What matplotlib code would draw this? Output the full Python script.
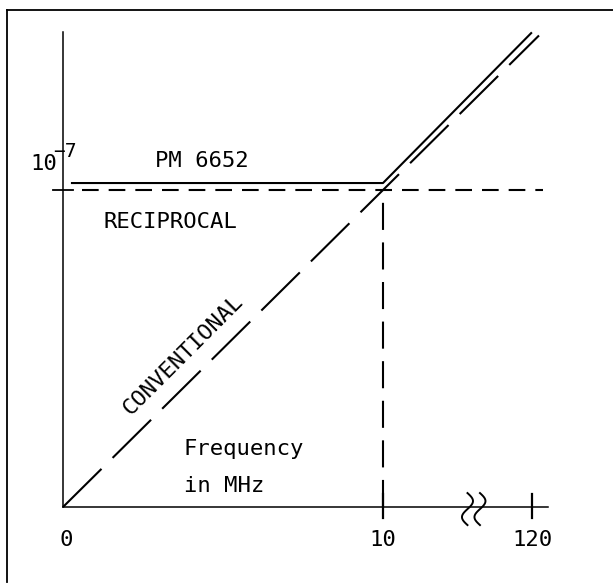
import numpy as np
import matplotlib.pyplot as plt
from matplotlib.lines import Line2D

plt.rcParams['font.family'] = 'DejaVu Sans Mono'

# frequency axis (10 MHz at 10, 120 MHz drawn after the break)
freq_ticks = [0, 10, 14.66]
freq_labels = ['0', '10', '120']
break_pos = 12.64

# relative resolution, reciprocal level = 1 (10^-7)
recip_level = 1.0
conv_x = [0, 14.875]
conv_y = [0, 1.4875]
pm_x = [0.28, 10, 14.63]
pm_y = [1.022, 1.022, 1.495]
recip_x = [0.6, 15.0]
y_top = 1.498
x_end = 15.16

fig = plt.figure(figsize=(6.13, 5.84), dpi=100)
ax = fig.add_axes([0, 0, 1, 1])
ax.set_xlim(-1.969, 17.1875)
ax.set_ylim(-0.2429, 1.5994)
ax.axis('off')

# frame (top and left only)
fig.add_artist(Line2D([0.0114, 1.0], [0.9837, 0.9837], transform=fig.transFigure, color='black', lw=1.3))
fig.add_artist(Line2D([0.0114, 0.0114], [0.0034, 0.9837], transform=fig.transFigure, color='black', lw=1.3))

# axes
ax.plot([0, 0], [0, y_top], color='black', lw=1.1)
ax.plot([0, x_end], [0, 0], color='black', lw=1.1)
ax.plot([-0.31, 0.31], [recip_level, recip_level], color='black', lw=1.3)
for xt in freq_ticks[1:]:
    ax.plot([xt, xt], [-0.036, 0.04], color='black', lw=1.6)
for xt, lab in zip(freq_ticks, freq_labels):
    ax.text(xt + (0.1 if xt == 0 else 0), -0.072, lab, ha='center', va='top', fontsize=16)

# axis break
s = np.linspace(0, 1, 60)
for off in [0, 0.39]:
    bx = break_pos + off + 0.172 * np.sin(2 * np.pi * s)
    by = 0.044 - 0.101 * s
    ax.plot(bx, by, color='black', lw=1.4)

# curves
ax.plot(conv_x, conv_y, color='black', lw=1.5, dashes=(26, 7.5))
ax.plot(recip_x, [recip_level, recip_level], color='black', lw=1.5, dashes=(8, 4.8))
ax.plot([10, 10], [0, recip_level], color='black', lw=1.5, dashes=(13, 6))
ax.plot(pm_x, pm_y, color='black', lw=1.5)

# labels
ax.text(-1.03, 1.063, '10', ha='left', va='baseline', fontsize=16)
ax.text(-0.30, 1.104, '\u22127', ha='left', va='baseline', fontsize=14)
ax.text(2.875, 1.0726, 'PM 6652', ha='left', va='baseline', fontsize=16)
ax.text(1.25, 0.880, 'RECIPROCAL', ha='left', va='baseline', fontsize=16)
ax.text(3.75, 0.4795, 'CONVENTIONAL', ha='center', va='center', rotation=45,
        rotation_mode='anchor', fontsize=16)
ax.text(3.78, 0.164, 'Frequency', ha='left', va='baseline', fontsize=16)
ax.text(3.78, 0.0473, 'in MHz', ha='left', va='baseline', fontsize=16)

fig.savefig('out.png', dpi=100)
